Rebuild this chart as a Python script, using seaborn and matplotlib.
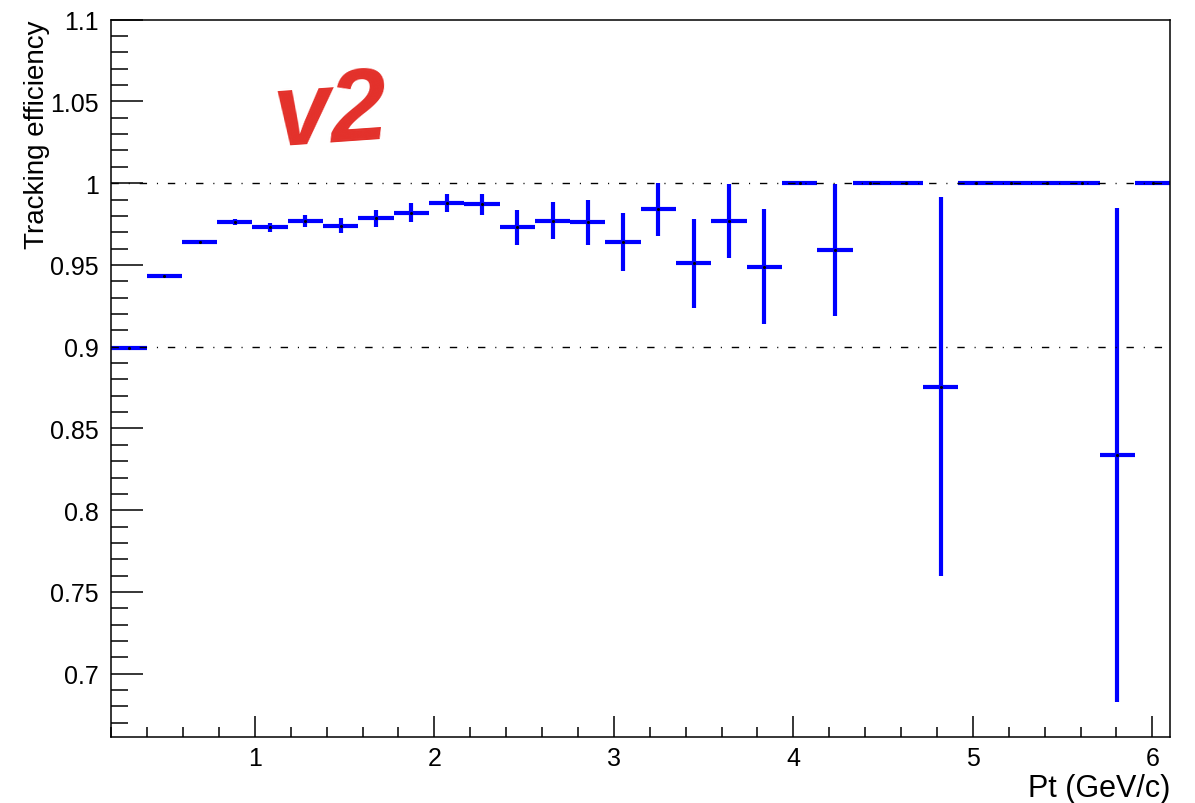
import matplotlib
matplotlib.use("Agg")
from matplotlib import pyplot as plt
from matplotlib.ticker import MultipleLocator, FuncFormatter
import pandas as pd
import seaborn as sns

# bin centres of the 30 Pt bins (0.2 - 6.1 GeV/c)
pt_centers = [0.2983, 0.4950, 0.6917, 0.8883, 1.0850, 1.2817, 1.4783, 1.6750,
              1.8717, 2.0683, 2.2650, 2.4617, 2.6583, 2.8550, 3.0517, 3.2483,
              3.4450, 3.6417, 3.8383, 4.0350, 4.2317, 4.4283, 4.6250, 4.8217,
              5.0183, 5.2150, 5.4117, 5.6083, 5.8050, 6.0017]
pt_halfwidth = 0.0983

efficiency = [0.899, 0.943, 0.964, 0.9765, 0.973, 0.977, 0.974, 0.9785,
              0.982, 0.988, 0.987, 0.973, 0.977, 0.976, 0.964, 0.984,
              0.951, 0.977, 0.949, 1.0, 0.959, 1.0, 1.0, 0.8755,
              1.0, 1.0, 1.0, 1.0, 0.834, 1.0]
eff_error = [0.001, 0.001, 0.0012, 0.0018, 0.0029, 0.0035, 0.0047, 0.0051,
             0.0057, 0.0055, 0.0065, 0.0106, 0.0112, 0.0137, 0.0177, 0.016,
             0.0273, 0.0228, 0.0351, 0.0, 0.0404, 0.0, 0.0, 0.116,
             0.0, 0.0, 0.0, 0.0, 0.151, 0.0]

ref_levels = [1.0, 0.9]


def main():
    sns.set_theme(style="ticks")
    plt.rcParams['font.family'] = ['Liberation Sans', 'DejaVu Sans']

    df = pd.DataFrame({'pt': pt_centers, 'eff': efficiency, 'err': eff_error})

    fig = plt.figure(figsize=(11.95, 8.04), dpi=100)
    ax = fig.add_axes([0.0931, 0.0825, 0.8862, 0.8918])

    # error crosses, ROOT style
    ax.errorbar(df['pt'], df['eff'], xerr=pt_halfwidth, yerr=df['err'],
                fmt='none', ecolor='#0000ff', elinewidth=3.0, capsize=0,
                zorder=2)
    sns.scatterplot(data=df, x='pt', y='eff', ax=ax, color='black', s=5,
                    linewidth=0, zorder=3, legend=False)

    # dash-dot reference lines
    for lvl in ref_levels:
        ax.axhline(lvl, color='black', lw=1.0,
                   linestyle=(0, (5.3, 7.1, 0.8, 7.1)), zorder=4)

    ax.set_xlim(0.2, 6.1)
    ax.set_ylim(0.6615, 1.1)

    ax.xaxis.set_major_locator(MultipleLocator(1))
    ax.xaxis.set_minor_locator(MultipleLocator(0.2))
    ax.yaxis.set_major_locator(MultipleLocator(0.05))
    ax.yaxis.set_minor_locator(MultipleLocator(0.01))
    ax.yaxis.set_major_formatter(FuncFormatter(lambda v, p: f'{v:g}'))
    ax.xaxis.set_major_formatter(FuncFormatter(lambda v, p: f'{v:g}'))

    ax.tick_params(axis='both', which='both', direction='in', color='black',
                   width=1.1, top=False, right=False, labelsize=18,
                   labelcolor='black')
    ax.tick_params(axis='y', which='major', length=23, pad=9)
    ax.tick_params(axis='y', which='minor', length=12)
    ax.tick_params(axis='x', which='major', length=15, pad=7)
    ax.tick_params(axis='x', which='minor', length=7.5)

    for sp in ax.spines.values():
        sp.set_color('black')
        sp.set_linewidth(1.1)
        sp.set_visible(True)

    ax.set_xlabel('Pt (GeV/c)', fontsize=22, loc='right', color='black')
    ax.set_ylabel('Tracking efficiency', fontsize=20, loc='top', color='black')
    ax.xaxis.set_label_coords(1.0, -0.05)
    ax.yaxis.set_label_coords(-0.058, 1.0)

    # red handwritten note
    ax.text(0.150, 0.868, 'v2', transform=ax.transAxes, color='#e3302a',
            fontsize=74, fontweight='bold', style='italic', ha='left',
            va='center', rotation=4)

    plt.savefig('out.png', dpi=100)


if __name__ == '__main__':
    main()
